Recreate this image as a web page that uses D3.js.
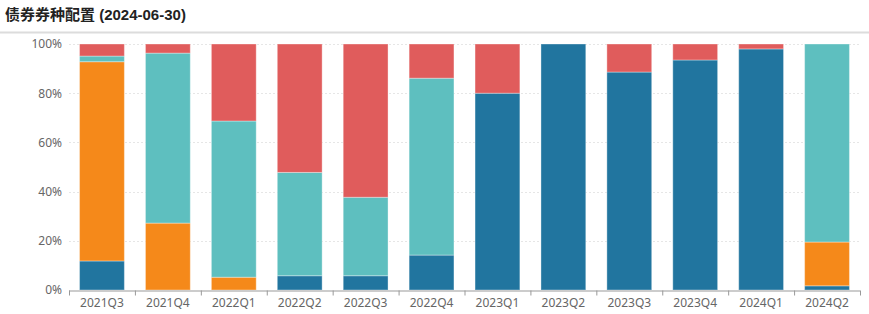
<!DOCTYPE html>
<html><head><meta charset="utf-8">
<script src="https://cdn.jsdelivr.net/npm/d3@7"></script>
<style>body{margin:0;background:#fff;}svg{display:block;}</style>
</head><body>
<svg id="c" width="869" height="314"></svg>
<script>
const title = "债券券种配置 (2024-06-30)";
const categories = ["2021Q3","2021Q4","2022Q1","2022Q2","2022Q3","2022Q4","2023Q1","2023Q2","2023Q3","2023Q4","2024Q1","2024Q2"];
const seriesNames = ["s1","s2","s3","s4"];
const s1 = [11.8, 0, 0, 5.8, 5.8, 14.2, 80.0, 100, 88.6, 93.5, 98.0, 1.7];
const s2 = [81.0, 27.2, 5.2, 0, 0, 0, 0, 0, 0, 0, 0, 17.8];
const s3 = [2.3, 69.1, 63.5, 42.0, 31.9, 71.9, 0, 0, 0, 0, 0, 80.5];
const s4 = [4.9, 3.7, 31.3, 52.2, 62.3, 13.9, 20.0, 0, 11.4, 6.5, 2.0, 0];
const colors = ["#21759f","#f5891a","#5ebfbf","#e05c5c"];
const yTicks = [0,20,40,60,80,100];

const svg = d3.select("#c");
svg.append("text").attr("x",5).attr("y",20).text(title)
  .attr("font-family","'Liberation Sans','Noto Sans CJK SC',sans-serif")
  .attr("font-weight","bold").attr("font-size",15).attr("fill","#222");
svg.append("line").attr("x1",0).attr("x2",869).attr("y1",32.5).attr("y2",32.5)
  .attr("stroke","#dcdcdc").attr("stroke-width",2);

const m = {left:69, right:860, top:44, bottom:290};
const x = d3.scaleBand().domain(categories).range([m.left,m.right]).paddingInner(0.32).paddingOuter(0.16);
const y = d3.scaleLinear().domain([0,100]).range([m.bottom,m.top]);

const font = "'Noto Sans','Noto Sans CJK SC',sans-serif";
// gridlines
svg.append("g").selectAll("line").data(yTicks.filter(d=>d>0)).join("line")
  .attr("x1",m.left).attr("x2",m.right)
  .attr("y1",d=>Math.round(y(d))+0.5).attr("y2",d=>Math.round(y(d))+0.5)
  .attr("stroke","#e6e6e6").attr("stroke-dasharray","2,2");

const yAxis = d3.axisLeft(y).tickValues(yTicks).tickFormat(d=>d+"%").tickSize(0).tickPadding(7);
const gy = svg.append("g").attr("transform",`translate(${m.left},0)`).call(yAxis);
gy.select(".domain").remove();
gy.selectAll("text").attr("font-family",font).attr("font-size",12).attr("fill","#666");

const data = categories.map((c,i)=>({cat:c, s1:s1[i], s2:s2[i], s3:s3[i], s4:s4[i]}));
const stack = d3.stack().keys(seriesNames)(data);
svg.append("g").selectAll("g").data(stack).join("g")
  .attr("fill",(d,i)=>colors[i])
  .selectAll("rect").data(d=>d.filter(p=>p[1]-p[0]>0)).join("rect")
  .attr("x",d=>x(d.data.cat)).attr("width",x.bandwidth())
  .attr("y",d=>y(d[1])).attr("height",d=>y(d[0])-y(d[1]))
  .attr("stroke","#fff").attr("stroke-opacity",0.35).attr("stroke-width",1);

const xAxis = d3.axisBottom(d3.scaleLinear().domain([0,12]).range([m.left,m.right]))
  .tickValues(d3.range(13)).tickSize(5).tickFormat("");
const gx = svg.append("g").attr("transform",`translate(0,${m.bottom+0.5})`).call(xAxis);
gx.select(".domain").attr("stroke","#999").attr("d",`M${m.left},0.5H${m.right}`);
gx.selectAll(".tick line").attr("stroke","#999");
svg.append("g").selectAll("text").data(categories).join("text")
  .attr("x",d=>x(d)+x.bandwidth()/2).attr("y",307).attr("text-anchor","middle")
  .attr("font-family",font).attr("font-size",12).attr("fill","#666").text(d=>d);
</script>
</body></html>
